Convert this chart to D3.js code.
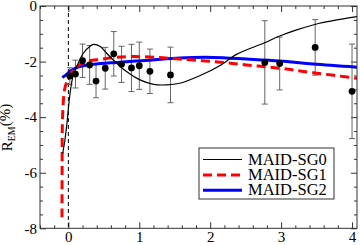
<!DOCTYPE html>
<html>
<head>
<meta charset="utf-8">
<script src="https://cdn.jsdelivr.net/npm/d3@7"></script>
<style>
  body { margin: 0; background: #fff; }
  text { font-family: "Liberation Serif", "DejaVu Serif", serif; }
</style>
</head>
<body>
<svg id="chart"></svg>
<script>
// measured points with error bars
var dataX = [0.02, 0.1, 0.2, 0.3, 0.39, 0.52, 0.64, 0.75, 0.89, 1.0, 1.15, 1.44, 2.77, 2.98, 3.48, 4.0];
var dataY = [-2.52, -2.45, -1.97, -2.12, -2.7, -2.24, -1.72, -2.1, -2.23, -2.15, -2.35, -2.48, -2.03, -2.07, -1.49, -3.07];
var dataErr = [0.3, 0.5, 0.6, 0.7, 0.6, 0.75, 0.8, 0.65, 0.85, 0.85, 0.8, 1.0, 1.5, 0.95, 1.0, 1.7];

// model curves
var sg0X = [-0.08, -0.05, -0.02, 0.024, 0.07, 0.14, 0.21, 0.31, 0.35, 0.45, 0.54, 0.68, 0.82, 1.01, 1.2, 1.39, 1.57, 1.86, 2.14, 2.37, 2.75, 2.98, 3.22, 3.54, 3.83, 4.07];
var sg0Y = [-5.3, -4.85, -4.22, -3.14, -2.48, -2.06, -1.7, -1.44, -1.38, -1.46, -1.7, -2.06, -2.36, -2.66, -2.82, -2.84, -2.78, -2.5, -2.14, -1.74, -1.34, -1.08, -0.86, -0.62, -0.48, -0.38];

var sg1X = [-0.09, -0.088, -0.085, -0.07, -0.05, -0.02, 0.02, 0.12, 0.26, 0.45, 0.68, 0.92, 1.24, 1.57, 2.04, 2.51, 2.98, 3.45, 4.07];
var sg1Y = [-7.6, -5.6, -4.3, -3.38, -2.96, -2.72, -2.48, -2.18, -2.0, -1.92, -1.85, -1.82, -1.85, -1.91, -2.0, -2.12, -2.24, -2.4, -2.6];

var sg2X = [-0.085, -0.02, 0.05, 0.16, 0.35, 0.68, 1.15, 1.57, 2.04, 2.51, 2.98, 3.45, 4.07];
var sg2Y = [-2.57, -2.45, -2.3, -2.18, -2.1, -2.03, -1.95, -1.87, -1.85, -1.91, -1.98, -2.09, -2.2];

var seriesNames = ['MAID-SG0', 'MAID-SG1', 'MAID-SG2'];
var xTicks = [0, 1, 2, 3, 4];
var yTicks = [-8, -6, -4, -2, 0];

var width = 360, height = 245;
var plot = { left: 40, right: 357, top: 6, bottom: 228.3 };

var svg = d3.select('#chart')
    .attr('width', width)
    .attr('height', height);

var x = d3.scaleLinear().domain([-0.4, 4.07]).range([plot.left, plot.right]);
var y = d3.scaleLinear().domain([-8, 0]).range([plot.bottom, plot.top]);

// minor tick values
var xMinor = d3.range(-4, 41, 2).map(function (d) { return d / 10; })
    .filter(function (d) { return d >= -0.4 && d <= 4.07 && xTicks.indexOf(d) < 0; });
var yMinor = d3.range(-16, 1).map(function (d) { return d / 2; })
    .filter(function (d) { return yTicks.indexOf(d) < 0; });

function drawAxis(axis, tx, ty, labels) {
    var g = svg.append('g')
        .attr('transform', 'translate(' + tx + ',' + ty + ')')
        .call(axis);
    g.select('.domain').remove();
    g.selectAll('line').attr('stroke', '#333');
    if (!labels) g.selectAll('text').remove();
    return g;
}

// major ticks + labels
var bottom = drawAxis(d3.axisBottom(x).tickValues(xTicks).tickSize(-6).tickPadding(3).tickFormat(d3.format('d')), 0, plot.bottom, true);
var left = drawAxis(d3.axisLeft(y).tickValues(yTicks).tickSize(-6).tickPadding(3).tickFormat(function (d) { return d === 0 ? '0' : '-' + Math.abs(d); }), plot.left, 0, true);
drawAxis(d3.axisTop(x).tickValues(xTicks).tickSize(-6), 0, plot.top, false);
drawAxis(d3.axisRight(y).tickValues(yTicks).tickSize(-6), plot.right, 0, false);

// minor ticks
drawAxis(d3.axisBottom(x).tickValues(xMinor).tickSize(-3), 0, plot.bottom, false);
drawAxis(d3.axisTop(x).tickValues(xMinor).tickSize(-3), 0, plot.top, false);
drawAxis(d3.axisLeft(y).tickValues(yMinor).tickSize(-3), plot.left, 0, false);
drawAxis(d3.axisRight(y).tickValues(yMinor).tickSize(-3), plot.right, 0, false);

svg.selectAll('.tick text')
    .attr('fill', '#000')
    .style('font-size', '15px');

// dashed line at x = 0
svg.append('line')
    .attr('x1', x(0)).attr('x2', x(0))
    .attr('y1', plot.top).attr('y2', plot.bottom)
    .attr('stroke', '#000')
    .attr('stroke-width', 1)
    .attr('stroke-dasharray', '4,3');

svg.append('clipPath').attr('id', 'clip')
    .append('rect')
    .attr('x', plot.left).attr('y', plot.top)
    .attr('width', plot.right - plot.left)
    .attr('height', plot.bottom - plot.top);

var plotArea = svg.append('g').attr('clip-path', 'url(#clip)');

// error bars
var bars = plotArea.append('g').attr('stroke', '#666').attr('stroke-width', 1);
dataX.forEach(function (d, i) {
    var top = y(dataY[i] + dataErr[i]), bot = y(dataY[i] - dataErr[i]);
    bars.append('line').attr('x1', x(d)).attr('x2', x(d)).attr('y1', top).attr('y2', bot);
    bars.append('line').attr('x1', x(d) - 3).attr('x2', x(d) + 3).attr('y1', top).attr('y2', top);
    bars.append('line').attr('x1', x(d) - 3).attr('x2', x(d) + 3).attr('y1', bot).attr('y2', bot);
});

// curves
var line = d3.line()
    .x(function (d) { return x(d[0]); })
    .y(function (d) { return y(d[1]); })
    .curve(d3.curveCatmullRom.alpha(0.5));

function zip(a, b) { return a.map(function (d, i) { return [d, b[i]]; }); }

var styles = [
    { color: '#000', width: 1.2, dash: null },
    { color: '#ff0000', width: 3, dash: '9,5' },
    { color: '#0000ff', width: 3, dash: null }
];

plotArea.append('path')
    .attr('d', line(zip(sg2X, sg2Y)))
    .attr('fill', 'none')
    .attr('stroke', styles[2].color)
    .attr('stroke-width', styles[2].width);

plotArea.append('path')
    .attr('d', line(zip(sg1X, sg1Y)))
    .attr('fill', 'none')
    .attr('stroke', styles[1].color)
    .attr('stroke-width', styles[1].width)
    .attr('stroke-dasharray', styles[1].dash);

plotArea.append('path')
    .attr('d', line(zip(sg0X, sg0Y)))
    .attr('fill', 'none')
    .attr('stroke', styles[0].color)
    .attr('stroke-width', styles[0].width);

// data points
plotArea.selectAll('circle')
    .data(dataX)
    .enter().append('circle')
    .attr('cx', function (d) { return x(d); })
    .attr('cy', function (d, i) { return y(dataY[i]); })
    .attr('r', 3.4)
    .attr('fill', '#000');

// frame
svg.append('rect')
    .attr('x', plot.left).attr('y', plot.top)
    .attr('width', plot.right - plot.left)
    .attr('height', plot.bottom - plot.top)
    .attr('fill', 'none')
    .attr('stroke', '#333')
    .attr('stroke-width', 1);

// y label
var ylab = svg.append('text')
    .attr('transform', 'translate(12,127.5) rotate(-90)')
    .attr('text-anchor', 'middle')
    .style('font-size', '15px');
ylab.append('tspan').text('R');
ylab.append('tspan').attr('baseline-shift', '-3').style('font-size', '10px').text('EM');
ylab.append('tspan').attr('baseline-shift', '2').text('(%)');

// legend
var legend = svg.append('g').attr('transform', 'translate(199,148)');
legend.append('rect')
    .attr('width', 135).attr('height', 51)
    .attr('fill', '#fff')
    .attr('stroke', '#333')
    .attr('stroke-width', 1);

var rows = legend.selectAll('g.row')
    .data(seriesNames)
    .enter().append('g')
    .attr('class', 'row')
    .attr('transform', function (d, i) { return 'translate(0,' + (16.5 + i * 15.4) + ')'; });

rows.append('line')
    .attr('x1', 4).attr('x2', 43)
    .attr('y1', -5).attr('y2', -5)
    .attr('stroke', function (d, i) { return styles[i].color; })
    .attr('stroke-width', function (d, i) { return styles[i].width; })
    .attr('stroke-dasharray', function (d, i) { return styles[i].dash; });

rows.append('text')
    .attr('x', 49)
    .style('font-size', '16.5px')
    .text(function (d) { return d; });
</script>
</body>
</html>
